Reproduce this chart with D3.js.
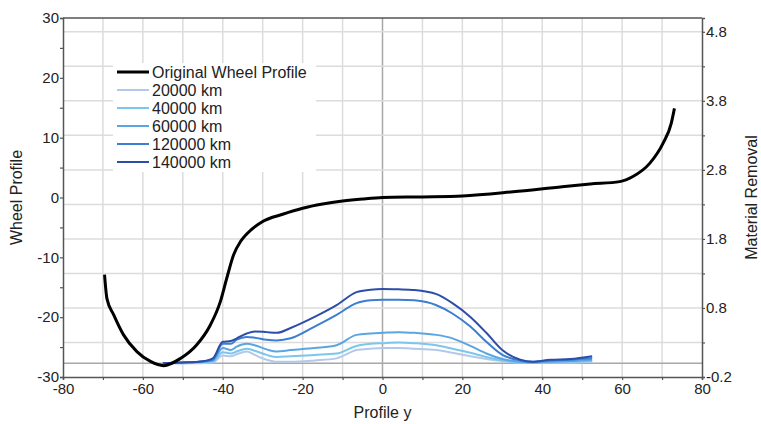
<!DOCTYPE html>
<html lang="en">
<head>
  <meta charset="UTF-8" />
  <title>Wheel Profile</title>
  <style>
    body { margin: 0; background: white; }
    svg text { font-family: "Liberation Sans", Arial, sans-serif; fill: #222; }
  </style>
</head>
<body>
  <svg id="chart" width="761" height="424"></svg>

  <script src="https://d3js.org/d3.v7.min.js"></script>
  <script>
    // original profile (left axis)
    const profileX = [-69.6, -69, -67.3, -64.8, -61.5, -58.1, -54.8, -50.6, -46.5, -43.1, -40.6, -39, -37.3, -35.5, -34, -30, -25, -20, -15, -10, -5, 0, 10, 20, 32.7, 45, 52, 59.4, 62.7, 66.9, 70.2, 72.3, 73.1];
    const profileY = [-12.9, -16.9, -19.6, -23.0, -25.75, -27.4, -28.1, -26.9, -24.6, -21.3, -17.4, -13.5, -9.6, -7.3, -6.1, -4.0, -2.8, -1.8, -1.1, -0.6, -0.25, 0, 0.1, 0.25, 0.95, 1.8, 2.25, 2.65, 3.5, 5.7, 9.0, 12.4, 14.9];

    // material removal (right axis)
    const wearX = [-55, -50, -46, -42.5, -40, -38, -36.5, -34, -32, -29, -26.5, -23, -17, -11.5, -6.5, -3, 0, 4, 8, 13.5, 17.5, 22, 26, 30, 34.5, 37.5, 42, 47, 52.5];
    const wear20k  = [0, 0, 0, 0.01, 0.11, 0.10, 0.13, 0.17, 0.12, 0.05, 0.02, 0.02, 0.04, 0.07, 0.19, 0.21, 0.22, 0.22, 0.21, 0.19, 0.15, 0.10, 0.06, 0.03, 0.01, 0.01, 0.01, 0.01, 0.02];
    const wear40k  = [0, 0, 0.01, 0.02, 0.16, 0.14, 0.17, 0.21, 0.18, 0.12, 0.09, 0.10, 0.12, 0.14, 0.25, 0.28, 0.29, 0.30, 0.29, 0.26, 0.21, 0.15, 0.09, 0.04, 0.01, 0.01, 0.02, 0.02, 0.03];
    const wear60k  = [0, 0.01, 0.02, 0.04, 0.22, 0.19, 0.24, 0.28, 0.26, 0.20, 0.17, 0.19, 0.22, 0.26, 0.41, 0.43, 0.44, 0.45, 0.44, 0.41, 0.36, 0.25, 0.14, 0.06, 0.02, 0.01, 0.02, 0.03, 0.05];
    const wear120k = [0, 0.01, 0.02, 0.05, 0.28, 0.28, 0.34, 0.38, 0.37, 0.34, 0.33, 0.36, 0.53, 0.70, 0.87, 0.91, 0.92, 0.92, 0.91, 0.84, 0.72, 0.53, 0.31, 0.12, 0.04, 0.02, 0.04, 0.05, 0.07];
    const wear140k = [0, 0.01, 0.02, 0.07, 0.31, 0.32, 0.36, 0.43, 0.46, 0.45, 0.44, 0.51, 0.67, 0.84, 1.03, 1.065, 1.075, 1.07, 1.06, 1.0, 0.87, 0.67, 0.44, 0.19, 0.05, 0.02, 0.05, 0.06, 0.10];

    const seriesNames = ["Original Wheel Profile", "20000 km", "40000 km", "60000 km", "120000 km", "140000 km"];
    const seriesColors = ["#000000", "#b4c9ea", "#7cc6ee", "#5aa6e2", "#3b7ed2", "#2c4ea8"];

    const xTicks = [-80, -70, -60, -50, -40, -30, -20, -10, 0, 10, 20, 30, 40, 50, 60, 70, 80];
    const leftTicks = [-30, -25, -20, -15, -10, -5, 0, 5, 10, 15, 20, 25, 30];
    const rightTicks = [-0.2, 0.3, 0.8, 1.3, 1.8, 2.3, 2.8, 3.3, 3.8, 4.3, 4.8];

    const svg = d3.select("#chart");
    const m = { left: 63, right: 702, top: 18, bottom: 377 };

    const x = d3.scaleLinear().domain([-80, 80]).range([m.left, m.right]);
    const yL = d3.scaleLinear().domain([-30, 30]).range([m.bottom, m.top]);
    const yR = d3.scaleLinear().domain([-0.2, 5.0]).range([m.bottom, m.top]);

    // grid
    const grid = svg.append("g");
    grid.selectAll(".vg").data(xTicks.filter(d => d > -80 && d < 80)).enter()
      .append("line")
      .attr("x1", d => x(d)).attr("x2", d => x(d))
      .attr("y1", m.top).attr("y2", m.bottom)
      .attr("stroke", d => d === 0 ? "#a8a8a8" : "#dcdcdc")
      .attr("stroke-width", 1.5);
    grid.selectAll(".hg").data(rightTicks.filter(d => d > -0.2)).enter()
      .append("line")
      .attr("x1", m.left).attr("x2", m.right)
      .attr("y1", d => yR(d)).attr("y2", d => yR(d))
      .attr("stroke", "#dcdcdc")
      .attr("stroke-width", 1.5);
    grid.append("line")
      .attr("x1", m.left).attr("x2", m.right)
      .attr("y1", yR(0)).attr("y2", yR(0))
      .attr("stroke", "#a8a8a8").attr("stroke-width", 1.5);

    // legend box covers grid
    svg.append("rect")
      .attr("x", 113).attr("y", 63).attr("width", 203).attr("height", 109)
      .attr("fill", "white");

    // axes
    const axB = svg.append("g").attr("transform", `translate(0,${m.bottom})`)
      .call(d3.axisBottom(x).tickValues(xTicks).tickSize(3).tickPadding(3)
        .tickFormat(d => d % 20 === 0 ? d : ""));
    const axL = svg.append("g").attr("transform", `translate(${m.left},0)`)
      .call(d3.axisLeft(yL).tickValues(leftTicks).tickSize(3).tickPadding(1)
        .tickFormat(d => d % 10 === 0 ? d : ""));
    const axR = svg.append("g").attr("transform", `translate(${m.right},0)`)
      .call(d3.axisRight(yR).tickValues(rightTicks).tickSize(3).tickPadding(1)
        .tickFormat((d, i) => i % 2 === 0 ? d.toFixed(1) : ""));

    [axB, axL, axR].forEach(a => {
      a.select(".domain").attr("stroke", "#555").attr("stroke-width", 1.5);
      a.selectAll(".tick line").attr("stroke", "#555").attr("stroke-width", 1.2);
      a.selectAll("text").attr("font-size", 15).attr("fill", "#222")
        .style("font-family", "'Liberation Sans', Arial, sans-serif");
    });
    svg.append("line").attr("x1", m.left).attr("x2", m.right).attr("y1", m.top).attr("y2", m.top)
      .attr("stroke", "#555").attr("stroke-width", 1.5);

    // wear lines
    const wearSeries = [wear20k, wear40k, wear60k, wear120k, wear140k];
    const wearLine = d3.line()
      .x(d => x(d[0])).y(d => yR(d[1]))
      .curve(d3.curveMonotoneX);
    wearSeries.forEach((vals, i) => {
      svg.append("path")
        .datum(wearX.map((v, j) => [v, vals[j]]))
        .attr("d", wearLine)
        .attr("fill", "none")
        .attr("stroke", seriesColors[i + 1])
        .attr("stroke-width", 2);
    });

    // original profile
    const profLine = d3.line()
      .x(d => x(d[0])).y(d => yL(d[1]))
      .curve(d3.curveMonotoneX);
    svg.append("path")
      .datum(profileX.map((v, j) => [v, profileY[j]]))
      .attr("d", profLine)
      .attr("fill", "none")
      .attr("stroke", "#000")
      .attr("stroke-width", 3);

    // legend
    const leg = svg.append("g").attr("transform", "translate(117,72)");
    seriesNames.forEach((name, i) => {
      const row = leg.append("g").attr("transform", `translate(0,${i * 18})`);
      row.append("line").attr("x1", 0).attr("x2", 32).attr("y1", 0).attr("y2", 0)
        .attr("stroke", seriesColors[i]).attr("stroke-width", i === 0 ? 3 : 2);
      row.append("text").attr("x", 35).attr("y", 0).attr("dy", "0.35em")
        .attr("font-size", 16).text(name);
    });

    // axis titles
    svg.append("text").attr("transform", `translate(22,${(m.top + m.bottom) / 2}) rotate(-90)`)
      .attr("text-anchor", "middle").attr("font-size", 16).text("Wheel Profile");
    svg.append("text").attr("transform", `translate(757,${(m.top + m.bottom) / 2}) rotate(-90)`)
      .attr("text-anchor", "middle").attr("font-size", 16).text("Material Removal");
    svg.append("text").attr("x", (m.left + m.right) / 2).attr("y", 418)
      .attr("text-anchor", "middle").attr("font-size", 16).text("Profile y");
  </script>
</body>
</html>
